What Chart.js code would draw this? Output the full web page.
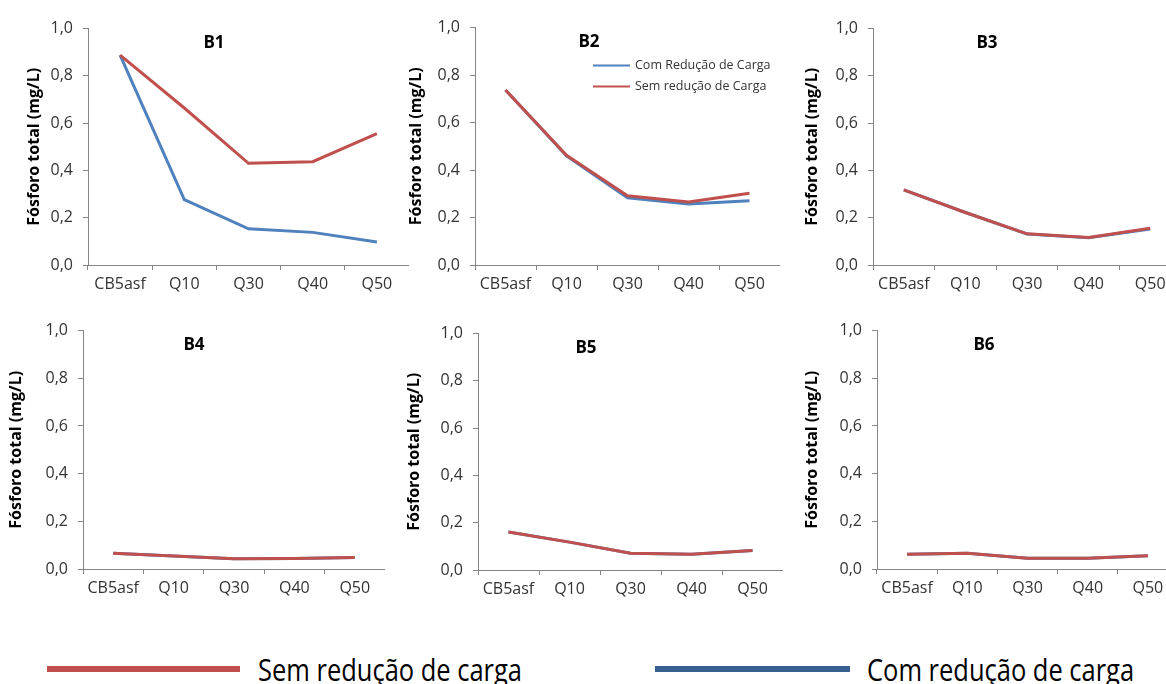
<!DOCTYPE html>
<html>
<head>
<meta charset="utf-8">
<script src="https://cdn.jsdelivr.net/npm/chart.js@4/dist/chart.umd.min.js"></script>
<style>
  html, body { margin: 0; padding: 0; background: #fff; overflow: hidden; }
  #page { position: relative; width: 1166px; height: 684px; overflow: hidden; }
  .panel { position: absolute; }
  .leg-line { position: absolute; height: 6px; }
  .leg-text { position: absolute; font-family: "Open Sans", sans-serif; font-size: 28px; line-height: 28px;
              color: #000; white-space: nowrap; transform: scale(0.91, 1.12); transform-origin: left top; }
</style>
</head>
<body>
<div id="page">
  <div class="leg-line" style="left:47px; top:666px; width:193px; background:#c0504d;"></div>
  <div class="leg-text" style="left:258px; top:653px;">Sem redução de carga</div>
  <div class="leg-line" style="left:655px; top:666px; width:195px; background:#376092;"></div>
  <div class="leg-text" style="left:867px; top:653px;">Com redução de carga</div>
</div>
<script>
// Pontos de coleta
const categories = ['CB5asf', 'Q10', 'Q30', 'Q40', 'Q50'];
const panelNames = ['B1', 'B2', 'B3', 'B4', 'B5', 'B6'];

// Fósforo total (mg/L) - sem redução de carga
const semB1 = [0.888, 0.664, 0.430, 0.437, 0.556];
const semB2 = [0.737, 0.462, 0.292, 0.265, 0.302];
const semB3 = [0.318, 0.222, 0.132, 0.116, 0.155];
const semB4 = [0.066, 0.055, 0.043, 0.044, 0.048];
const semB5 = [0.161, 0.118, 0.071, 0.067, 0.082];
const semB6 = [0.062, 0.066, 0.045, 0.045, 0.056];

// Fósforo total (mg/L) - com redução de carga
const comB1 = [0.888, 0.277, 0.153, 0.138, 0.097];
const comB2 = [0.737, 0.460, 0.283, 0.257, 0.271];
const comB3 = [0.318, 0.222, 0.131, 0.115, 0.152];
const comB4 = [0.066, 0.055, 0.043, 0.044, 0.048];
const comB5 = [0.161, 0.118, 0.071, 0.067, 0.082];
const comB6 = [0.062, 0.066, 0.045, 0.045, 0.056];

const yTicks = [0, 0.2, 0.4, 0.6, 0.8, 1.0];

const semSeries = [semB1, semB2, semB3, semB4, semB5, semB6];
const comSeries = [comB1, comB2, comB3, comB4, comB5, comB6];

// posição de cada gráfico na página
const layout = [
  { left: 88,  top: 21,  bottom: 265, right: 409,  titleX: 35,  nameDx: 126 },
  { left: 475, top: 20,  bottom: 265, right: 780,  titleX: 417, nameDx: 114 },
  { left: 873, top: 21,  bottom: 265, right: 1181, titleX: 813, nameDx: 114 },
  { left: 83,  top: 323, bottom: 569, right: 385,  titleX: 17,  nameDx: 111 },
  { left: 478, top: 326, bottom: 570, right: 783,  titleX: 415, nameDx: 108 },
  { left: 877, top: 323, bottom: 569, right: 1178, titleX: 813, nameDx: 107 }
];

const RED = '#c0504d';
const BLUE = '#4f81bd';
const AXIS = '#868686';
const FONT = '"Open Sans", sans-serif';

// escreve o nome do ponto (B1...) e a legenda interna do B2
const innerText = {
  id: 'innerText',
  afterDatasetsDraw(chart, args, opts) {
    const ctx = chart.ctx;
    const area = chart.chartArea;
    ctx.save();
    ctx.fillStyle = '#000';
    ctx.font = 'bold 17px ' + FONT;
    ctx.textAlign = 'center';
    ctx.textBaseline = 'middle';
    ctx.fillText(opts.name, area.left + opts.dx, area.top + 15);
    if (opts.legend) {
      const ds = chart.data.datasets;
      ctx.font = '12.5px ' + FONT;
      ctx.textAlign = 'left';
      ctx.fillStyle = '#333';
      let y = area.top + 38;
      for (let i = ds.length - 1; i >= 0; i--) {
        ctx.strokeStyle = ds[i].borderColor;
        ctx.lineWidth = 2;
        ctx.beginPath();
        ctx.moveTo(area.left + 118, y);
        ctx.lineTo(area.left + 155, y);
        ctx.stroke();
        ctx.fillText(ds[i].label, area.left + 160, y);
        y += 21;
      }
    }
    ctx.restore();
  }
};

const page = document.getElementById('page');

layout.forEach(function (L, i) {
  const canvasLeft = L.titleX - 14;
  const canvasTop = L.top - 12;
  const w = L.right - canvasLeft;
  const h = L.bottom + 40 - canvasTop;

  const div = document.createElement('div');
  div.className = 'panel';
  div.style.left = canvasLeft + 'px';
  div.style.top = canvasTop + 'px';
  const canvas = document.createElement('canvas');
  canvas.width = w;
  canvas.height = h;
  div.appendChild(canvas);
  page.appendChild(div);

  const isB2 = i === 1;
  new Chart(canvas.getContext('2d'), {
    type: 'line',
    data: {
      labels: categories,
      datasets: [{
        label: isB2 ? 'Sem redução de Carga' : 'Sem redução de carga',
        data: semSeries[i],
        borderColor: RED,
        backgroundColor: RED,
        borderWidth: 3,
        pointRadius: 0,
        tension: 0
      }, {
        label: isB2 ? 'Com Redução de Carga' : 'Com redução de carga',
        data: comSeries[i],
        borderColor: BLUE,
        backgroundColor: BLUE,
        borderWidth: 3,
        pointRadius: 0,
        tension: 0
      }]
    },
    options: {
      responsive: false,
      animation: false,
      layout: { padding: { top: 12, left: 0, right: 0, bottom: 0 } },
      plugins: {
        legend: { display: false },
        tooltip: { enabled: false },
        innerText: { name: panelNames[i], dx: L.nameDx, legend: isB2 }
      },
      scales: {
        x: {
          offset: true,
          grid: { offset: true, drawOnChartArea: false, tickLength: 5, color: AXIS },
          border: { color: AXIS },
          ticks: { color: '#333', font: { family: FONT, size: 16 }, padding: 5, maxRotation: 0 },
          afterFit: function (s) { s.height = 40; }
        },
        y: {
          min: 0,
          max: 1,
          grid: { drawOnChartArea: false, tickLength: 5, color: AXIS },
          border: { color: AXIS },
          afterBuildTicks: function (s) { s.ticks = yTicks.map(function (v) { return { value: v }; }); },
          ticks: {
            color: '#333',
            font: { family: FONT, size: 16 },
            padding: 10,
            callback: function (v) { return v.toFixed(1).replace('.', ','); }
          },
          title: {
            display: true,
            text: 'Fósforo total (mg/L)',
            color: '#000',
            font: { family: FONT, size: 16, weight: 'bold' }
          },
          afterFit: function (s) { s.width = L.left - canvasLeft; }
        }
      }
    },
    plugins: [innerText]
  });
});
</script>
</body>
</html>
